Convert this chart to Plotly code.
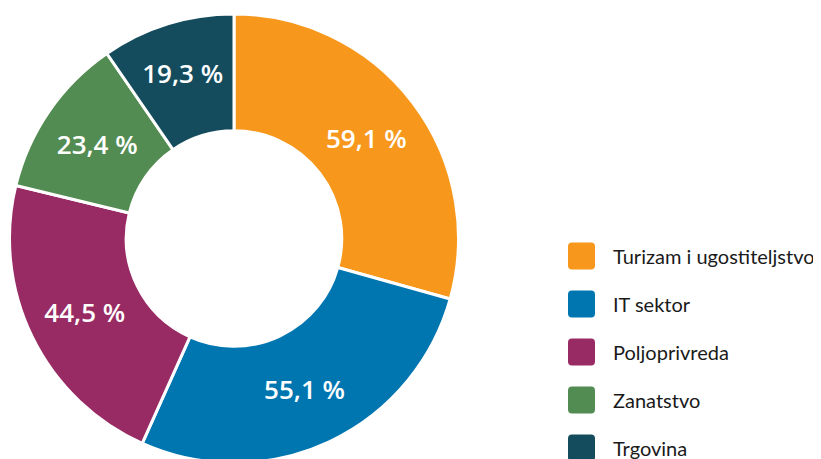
import plotly.graph_objects as go

categories = ["Turizam i ugostiteljstvo", "IT sektor", "Poljoprivreda", "Zanatstvo", "Trgovina"]
values = [59.1, 55.1, 44.5, 23.4, 19.3]
colors = ["#F7981D", "#0076B1", "#982A64", "#528C52", "#144C5E"]

# page body adds an 8px margin; figure coords = screen coords - 8
W, H = 813, 455
TOP = 6

fig = go.Figure()
fig.add_trace(go.Pie(
    labels=categories,
    values=values,
    sort=False,
    direction="clockwise",
    hole=0.48,
    marker=dict(colors=colors, line=dict(color="white", width=3)),
    texttemplate="%{value:.1f} %",
    textposition="inside",
    insidetextorientation="horizontal",
    textfont=dict(family="Open Sans", size=26, color="white", weight=600),
    domain=dict(x=[0, 452 / W], y=[0, 1]),
    showlegend=False,
    hoverinfo="label+value",
))

# hand-made legend: rounded squares + labels
shapes, annotations = [], []
for i, (name, col) in enumerate(zip(categories, colors)):
    cy = 248 + 48 * i
    yp = (H - cy) / (H - TOP)
    shapes.append(dict(
        type="path", xref="paper", yref="paper",
        xsizemode="pixel", ysizemode="pixel",
        xanchor=573.5 / W, yanchor=yp,
        path="M -9.5 -13.5 L 9.5 -13.5 Q 13.5 -13.5 13.5 -9.5 L 13.5 9.5 Q 13.5 13.5 9.5 13.5 "
             "L -9.5 13.5 Q -13.5 13.5 -13.5 9.5 L -13.5 -9.5 Q -13.5 -13.5 -9.5 -13.5 Z",
        fillcolor=col, line=dict(width=0),
    ))
    annotations.append(dict(
        text=name, xref="paper", yref="paper",
        x=603 / W, y=yp, xanchor="left", yanchor="middle",
        showarrow=False,
        font=dict(family="Lato", size=20, color="#1a1a1a"),
    ))

fig.update_layout(
    width=W, height=H,
    margin=dict(l=0, r=0, t=TOP, b=0),
    paper_bgcolor="white",
    plot_bgcolor="white",
    separators=", ",
    uniformtext=dict(mode="show", minsize=26),
    shapes=shapes,
    annotations=annotations,
)

fig.write_html("out.html")
